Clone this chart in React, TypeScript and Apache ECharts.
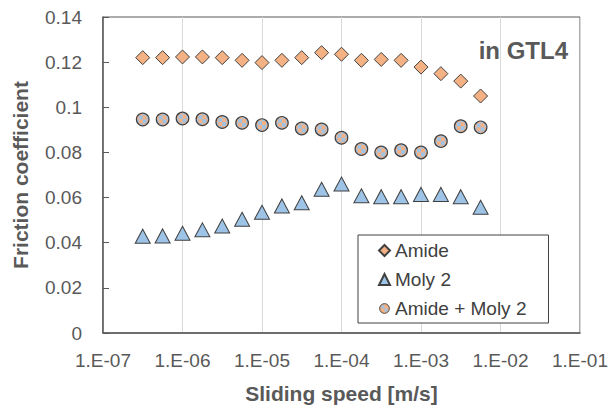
import React, { useEffect, useRef } from "react";
import * as echarts from "echarts";

const speeds = [3.16e-7, 5.62e-7, 1e-6, 1.78e-6, 3.16e-6, 5.62e-6, 1e-5, 1.78e-5, 3.16e-5, 5.62e-5, 1e-4, 1.78e-4, 3.16e-4, 5.62e-4, 1e-3, 1.78e-3, 3.16e-3, 5.62e-3];
const amide = [0.1220, 0.1220, 0.1223, 0.1223, 0.1220, 0.1208, 0.1198, 0.1208, 0.1220, 0.1242, 0.1235, 0.1208, 0.1212, 0.1208, 0.1178, 0.1149, 0.1116, 0.1050];
const moly2 = [0.0429, 0.0430, 0.0442, 0.0457, 0.0474, 0.0504, 0.0535, 0.0563, 0.0577, 0.0637, 0.0660, 0.0608, 0.0604, 0.0604, 0.0614, 0.0614, 0.0604, 0.0557];
const amideMoly2 = [0.0946, 0.0946, 0.0950, 0.0947, 0.0935, 0.0931, 0.0921, 0.0931, 0.0906, 0.0902, 0.0865, 0.0815, 0.0800, 0.0810, 0.0800, 0.0850, 0.0916, 0.0911];
const seriesNames = ["Amide", "Moly 2", "Amide + Moly 2"];
const xTickLabels = ["1.E-07", "1.E-06", "1.E-05", "1.E-04", "1.E-03", "1.E-02", "1.E-01"];
const yTickLabels = ["0", "0.02", "0.04", "0.06", "0.08", "0.1", "0.12", "0.14"];

const FONT = "'Liberation Sans', Arial, sans-serif";
const GRAY = "#595959";
const EDGE = "#404040";
const ORANGE = "#F4B183";
const BLUE = "#9DC3E6";
const R = 6.3;
const CELL = 4;

const checkerSvg =
  "<svg xmlns='http://www.w3.org/2000/svg' width='14' height='14' viewBox='0 0 14 14'>" +
  `<circle cx='7' cy='7' r='6.2' fill='${ORANGE}'/>` +
  `<path d='M3 3h4v4h-4z M7 7h4v4h-4z' fill='${BLUE}'/>` +
  `<circle cx='7' cy='7' r='6.2' fill='none' stroke='${EDGE}' stroke-width='1.2'/></svg>`;
const checkerIcon = "image://data:image/svg+xml;charset=utf-8," + encodeURIComponent(checkerSvg);

// circle (as polygon) clipped to an axis-aligned rectangle
function clipCircleRect(cx: number, cy: number, r: number, x0: number, y0: number, x1: number, y1: number) {
  let pts: number[][] = [];
  const N = 48;
  for (let k = 0; k < N; k++) {
    const a = (k / N) * Math.PI * 2;
    pts.push([cx + r * Math.cos(a), cy + r * Math.sin(a)]);
  }
  const clip = (p: number[][], inside: (q: number[]) => boolean, inter: (a: number[], b: number[]) => number[]) => {
    const out: number[][] = [];
    for (let i = 0; i < p.length; i++) {
      const cur = p[i];
      const prev = p[(i + p.length - 1) % p.length];
      const ci = inside(cur), pi = inside(prev);
      if (ci) {
        if (!pi) out.push(inter(prev, cur));
        out.push(cur);
      } else if (pi) out.push(inter(prev, cur));
    }
    return out;
  };
  const ix = (X: number) => (a: number[], b: number[]) => [X, a[1] + ((b[1] - a[1]) * (X - a[0])) / (b[0] - a[0])];
  const iy = (Y: number) => (a: number[], b: number[]) => [a[0] + ((b[0] - a[0]) * (Y - a[1])) / (b[1] - a[1]), Y];
  pts = clip(pts, (q) => q[0] >= x0, ix(x0));
  if (pts.length) pts = clip(pts, (q) => q[0] <= x1, ix(x1));
  if (pts.length) pts = clip(pts, (q) => q[1] >= y0, iy(y0));
  if (pts.length) pts = clip(pts, (q) => q[1] <= y1, iy(y1));
  return pts;
}

export default function App() {
  const ref = useRef<HTMLDivElement>(null);
  useEffect(() => {
    document.body.style.margin = "0";
    if (!ref.current) return;
    const chart = echarts.init(ref.current, null, { renderer: "svg" });

    const mk = (ys: number[]) => speeds.map((x, i) => [x, ys[i]]);

    const renderChecker = (params: any, api: any) => {
      const p = api.coord([api.value(0), api.value(1)]);
      const cx = p[0], cy = p[1];
      const children: any[] = [
        { type: "circle", shape: { cx, cy, r: R }, style: { fill: ORANGE } },
      ];
      for (let i = -2; i <= 1; i++) {
        for (let j = -2; j <= 1; j++) {
          if ((i + j) % 2 !== 0) continue;
          const poly = clipCircleRect(cx, cy, R, cx + i * CELL, cy + j * CELL, cx + (i + 1) * CELL, cy + (j + 1) * CELL);
          if (poly.length >= 3) {
            children.push({ type: "polygon", shape: { points: poly }, style: { fill: BLUE } });
          }
        }
      }
      children.push({ type: "circle", shape: { cx, cy, r: R }, style: { fill: "none", stroke: EDGE, lineWidth: 1.2 } });
      return { type: "group", children };
    };

    chart.setOption({
      animation: false,
      textStyle: { fontFamily: FONT },
      grid: {
        left: 103, right: 30, top: 17, bottom: 76,
        containLabel: false, outerBoundsMode: "none",
        show: true, borderColor: GRAY, borderWidth: 1,
      },
      xAxis: {
        type: "log", logBase: 10, min: 1e-7, max: 1e-1, splitNumber: 6,
        name: "Sliding speed [m/s]", nameLocation: "middle", nameGap: 50,
        nameTextStyle: { fontSize: 21, fontWeight: "bold", color: GRAY, fontFamily: FONT },
        axisLine: { lineStyle: { color: GRAY, width: 1.5 } },
        axisTick: { show: false },
        axisLabel: {
          fontSize: 19, color: GRAY, margin: 18, fontFamily: FONT,
          formatter: (v: number) => xTickLabels[Math.round(Math.log10(v)) + 7] ?? "",
        },
        splitLine: { show: true, lineStyle: { color: "#D9D9D9", width: 1 } },
        minorTick: { show: false },
      },
      yAxis: {
        type: "value", min: 0, max: 0.14, interval: 0.02,
        name: "Friction coefficient", nameLocation: "middle", nameGap: 72,
        nameTextStyle: { fontSize: 21, fontWeight: "bold", color: GRAY, fontFamily: FONT },
        axisLine: { show: true, lineStyle: { color: GRAY, width: 1.5 } },
        axisTick: { show: true, inside: true, length: 6, lineStyle: { color: GRAY } },
        axisLabel: {
          fontSize: 19, color: GRAY, margin: 21, fontFamily: FONT,
          formatter: (v: number) => yTickLabels[Math.round(v / 0.02)] ?? "",
        },
        splitLine: { show: false },
      },
      legend: {
        orient: "vertical", left: 358, top: 235,
        padding: [6, 22, 5, 20],
        itemGap: 10, itemWidth: 11, itemHeight: 11,
        backgroundColor: "#fff", borderColor: EDGE, borderWidth: 1,
        textStyle: { fontSize: 19, color: "#404040", fontFamily: FONT },
        data: [
          { name: seriesNames[0] },
          { name: seriesNames[1] },
          { name: seriesNames[2], icon: checkerIcon },
        ],
      },
      graphic: [
        {
          type: "text", x: 568, y: 50,
          style: {
            text: "in GTL4", textAlign: "right", textVerticalAlign: "middle",
            fontSize: 24, fontWeight: "bold", fontFamily: FONT, fill: GRAY,
          },
        },
      ],
      series: [
        {
          name: seriesNames[0], type: "scatter", symbol: "diamond", symbolSize: [14, 14],
          itemStyle: { color: ORANGE, borderColor: EDGE, borderWidth: 1, opacity: 1 },
          data: mk(amide),
        },
        {
          name: seriesNames[1], type: "scatter", symbol: "triangle", symbolSize: [15, 14],
          itemStyle: { color: BLUE, borderColor: EDGE, borderWidth: 1, opacity: 1 },
          data: mk(moly2),
        },
        {
          name: seriesNames[2], type: "custom", renderItem: renderChecker,
          itemStyle: { color: ORANGE, borderColor: EDGE, borderWidth: 1 },
          encode: { x: 0, y: 1 },
          data: mk(amideMoly2),
        },
      ],
    });
    return () => chart.dispose();
  }, []);
  return <div ref={ref} style={{ width: 610, height: 409 }} />;
}
